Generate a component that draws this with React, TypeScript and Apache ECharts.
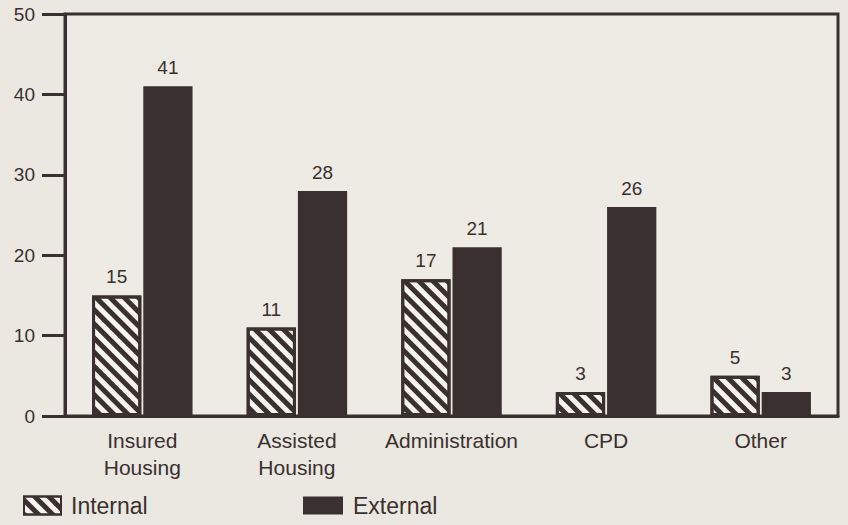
import React, { useEffect, useRef } from "react";
import * as echarts from "echarts";

const categories = ["Insured\nHousing", "Assisted\nHousing", "Administration", "CPD", "Other"];
const internalValues = [15, 11, 17, 3, 5];
const externalValues = [41, 28, 21, 26, 3];
const yTicks = [0, 10, 20, 30, 40, 50];

const INK = "#3a302f";
const BG = "#ebe8e1";
const FONT = "'Liberation Sans', Arial, Helvetica, sans-serif";

export default function App() {
  const ref = useRef<HTMLDivElement>(null);
  useEffect(() => {
    if (!ref.current) return;
    const chart = echarts.init(ref.current, undefined, { renderer: "svg" });
    const hatch = {
      symbol: "rect",
      symbolSize: 1,
      color: INK,
      backgroundColor: "#f7f5f0",
      dashArrayX: [1, 0],
      dashArrayY: [5, 5],
      rotation: Math.PI / 4,
    };
    const legendText = { fontSize: 23, color: INK, fontFamily: FONT, padding: [0, 0, 0, 5] };
    const dataLabel = {
      show: true,
      position: "top",
      distance: 9,
      fontSize: 19,
      color: INK,
      fontFamily: FONT,
    };
    chart.setOption({
      animation: false,
      backgroundColor: BG,
      textStyle: { fontFamily: FONT },
      grid: {
        left: 65,
        right: 10,
        top: 14,
        bottom: 109,
        show: true,
        borderColor: INK,
        borderWidth: 3,
        backgroundColor: "#eeebe5",
      },
      legend: [
        {
          data: ["Internal"],
          icon: "rect",
          left: 23,
          top: 494,
          padding: 0,
          itemWidth: 37,
          itemHeight: 18,
          textStyle: legendText,
        },
        {
          data: ["External"],
          icon: "rect",
          left: 303,
          top: 494,
          padding: 0,
          itemWidth: 40,
          itemHeight: 18,
          textStyle: legendText,
        },
      ],
      xAxis: {
        type: "category",
        data: categories,
        axisLine: { show: true, lineStyle: { color: INK, width: 3 } },
        axisTick: { show: false },
        axisLabel: {
          interval: 0,
          fontSize: 21,
          color: INK,
          fontFamily: FONT,
          lineHeight: 27,
          margin: 11,
        },
      },
      yAxis: {
        type: "value",
        min: yTicks[0],
        max: yTicks[yTicks.length - 1],
        interval: 10,
        splitLine: { show: false },
        axisLine: { show: true, lineStyle: { color: INK, width: 3 } },
        axisTick: { show: true, length: 23, lineStyle: { color: INK, width: 3 } },
        axisLabel: { fontSize: 19, color: INK, fontFamily: FONT, margin: 30 },
      },
      series: [
        {
          name: "Internal",
          type: "bar",
          data: internalValues,
          barGap: "4%",
          barCategoryGap: "35%",
          itemStyle: {
            color: "#f7f5f0",
            borderColor: INK,
            borderWidth: 3,
            decal: hatch,
          },
          label: dataLabel,
        },
        {
          name: "External",
          type: "bar",
          data: externalValues,
          itemStyle: { color: INK },
          label: dataLabel,
        },
      ],
    });
    return () => chart.dispose();
  }, []);
  return <div ref={ref} style={{ width: 848, height: 525, position: "absolute", left: 0, top: 0 }} />;
}
